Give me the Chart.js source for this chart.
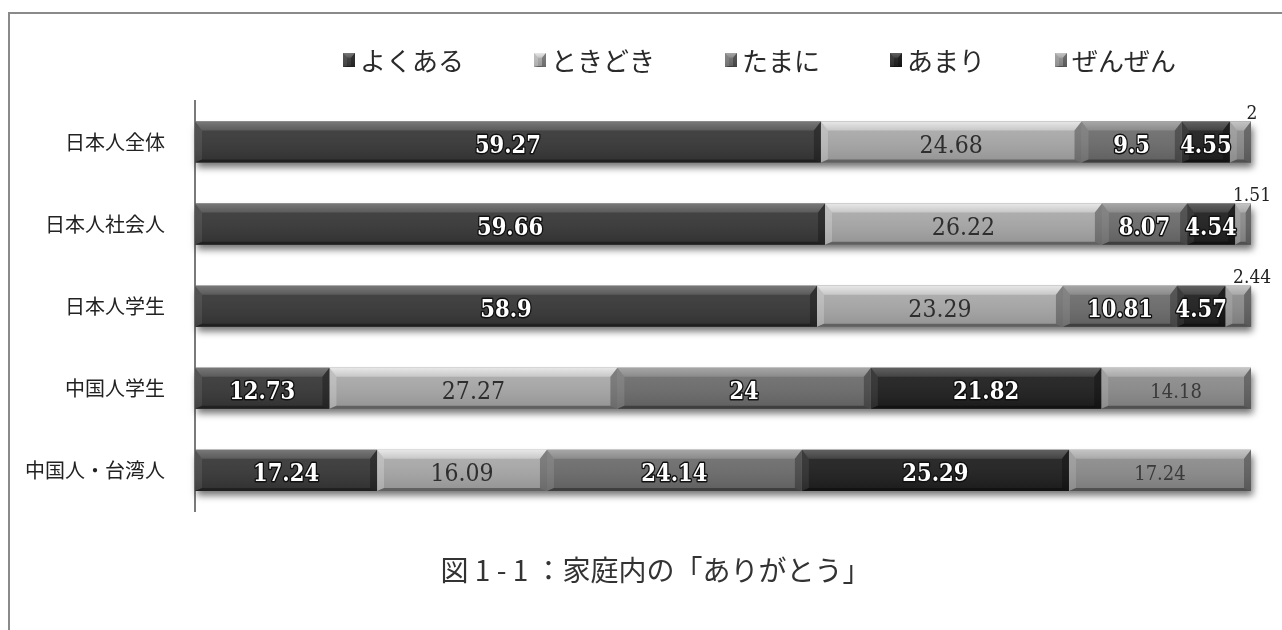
<!DOCTYPE html>
<html lang="ja">
<head>
<meta charset="utf-8">
<title>家庭内の「ありがとう」</title>
<script src="https://cdn.jsdelivr.net/npm/chart.js@4.4.1/dist/chart.umd.min.js"></script>
<style>
  html, body { margin: 0; padding: 0; background: #fff; overflow: hidden; }
  #wrap { position: relative; width: 1282px; height: 630px; overflow: hidden; }
  #frame { position: absolute; left: 8px; top: 12px; width: 1300px; height: 640px;
           border-left: 2px solid #8a8a8a; border-top: 2px solid #8a8a8a; pointer-events: none; }
  canvas { position: absolute; left: 0; top: 0; }
</style>
</head>
<body>
<div id="wrap">
  <div id="frame"></div>
  <canvas id="chart" width="1282" height="630"></canvas>
</div>
<script>
// 回答者グループ
const categories = ['日本人全体', '日本人社会人', '日本人学生', '中国人学生', '中国人・台湾人'];

// 回答の割合 (%)
const seriesNames = ['よくある', 'ときどき', 'たまに', 'あまり', 'ぜんぜん'];
const yokuAru   = [59.27, 59.66, 58.9, 12.73, 17.24];
const tokidoki  = [24.68, 26.22, 23.29, 27.27, 16.09];
const tamaNi    = [9.5, 8.07, 10.81, 24, 24.14];
const amari     = [4.55, 4.54, 4.57, 21.82, 25.29];
const zenzen    = [2, 1.51, 2.44, 14.18, 17.24];

const figureTitle = '図 1 - 1 ：家庭内の「ありがとう」';

// 見た目の設定
const SERIES_FILL  = ['#383838', '#ababab', '#6e6e6e', '#1f1f1f', '#8e8e8e'];
const SERIES_SHINE = [0.28, 0.7, 0.35, 0.25, 0.45];
const SERIF = '"DejaVu Serif", "Liberation Serif", serif';
const LABEL_STYLE = [
  { weight: 'bold',   size: 24, squeeze: 0.88, fill: '#ffffff', stroke: '#111111' },
  { weight: 'normal', size: 24, squeeze: 0.92, fill: '#2e2e2e' },
  { weight: 'bold',   size: 24, squeeze: 0.88, fill: '#ffffff', stroke: '#111111' },
  { weight: 'bold',   size: 24, squeeze: 0.88, fill: '#ffffff', stroke: '#111111' },
  { weight: 'normal', size: 20, squeeze: 0.9,  fill: '#3a3a3a' }
];
const SMALL_LABEL = { weight: 'normal', size: 18, squeeze: 0.95, fill: '#222222' };
const SMALL_LIMIT = 3;

const CJK = '"Noto Sans CJK JP", "Noto Sans", sans-serif';
Chart.defaults.font.family = CJK;

function poly(ctx, pts, style) {
  ctx.beginPath();
  ctx.moveTo(pts[0][0], pts[0][1]);
  for (let i = 1; i < pts.length; i++) ctx.lineTo(pts[i][0], pts[i][1]);
  ctx.closePath();
  ctx.fillStyle = style;
  ctx.fill();
}

// 立体的な面取り
function bevel(ctx, l, t, r, b, shine, dTop, dSide, dBot) {
  const w = r - l, h = b - t;
  const dt = Math.min(dTop, h / 3);
  const ds = Math.min(dSide, w / 3);
  const db = Math.min(dBot, h / 4);
  const body = ctx.createLinearGradient(0, t, 0, b);
  body.addColorStop(0, 'rgba(255,255,255,0.06)');
  body.addColorStop(1, 'rgba(0,0,0,0.14)');
  ctx.fillStyle = body;
  ctx.fillRect(l, t, w, h);
  const g = ctx.createLinearGradient(0, t, 0, t + dt);
  g.addColorStop(0, 'rgba(255,255,255,' + shine + ')');
  g.addColorStop(1, 'rgba(255,255,255,' + (shine * 0.45) + ')');
  poly(ctx, [[l, t], [r, t], [r - ds, t + dt], [l + ds, t + dt]], g);
  poly(ctx, [[l, t], [l + ds, t + dt], [l + ds, b - db], [l, b]], 'rgba(255,255,255,' + (shine * 0.3) + ')');
  poly(ctx, [[r, t], [r - ds, t + dt], [r - ds, b - db], [r, b]], 'rgba(0,0,0,0.28)');
  poly(ctx, [[l, b], [l + ds, b - db], [r - ds, b - db], [r, b]], 'rgba(0,0,0,0.35)');
}

function barBox(el) {
  const p = el.getProps(['x', 'y', 'base', 'height'], true);
  return {
    l: Math.min(p.x, p.base), r: Math.max(p.x, p.base),
    t: p.y - p.height / 2, b: p.y + p.height / 2, cy: p.y
  };
}

// 数字ラベル (横幅をやや詰めたセリフ体)
function drawValue(ctx, txt, x, baseline, st) {
  ctx.save();
  ctx.translate(x, baseline);
  ctx.scale(st.squeeze, 1);
  ctx.font = st.weight + ' ' + st.size + 'px ' + SERIF;
  ctx.textAlign = 'center';
  ctx.textBaseline = 'alphabetic';
  ctx.lineJoin = 'round';
  if (st.stroke) {
    ctx.strokeStyle = st.stroke;
    ctx.lineWidth = 3;
    ctx.strokeText(txt, 0, 0);
  }
  ctx.fillStyle = st.fill;
  ctx.fillText(txt, 0, 0);
  ctx.restore();
}

// 各行の帯の下に落ち影
const barShadow = {
  id: 'barShadow',
  beforeDatasetsDraw(chart) {
    const ctx = chart.ctx;
    const metas = chart.getSortedVisibleDatasetMetas();
    categories.forEach((c, i) => {
      let l = Infinity, r = -Infinity, t = 0, b = 0;
      metas.forEach(m => {
        const bx = barBox(m.data[i]);
        l = Math.min(l, bx.l); r = Math.max(r, bx.r); t = bx.t; b = bx.b;
      });
      ctx.save();
      ctx.shadowColor = 'rgba(0,0,0,0.55)';
      ctx.shadowBlur = 7;
      ctx.shadowOffsetX = 2;
      ctx.shadowOffsetY = 5;
      ctx.fillStyle = '#666';
      ctx.fillRect(l, t, r - l, b - t);
      ctx.restore();
    });
  }
};

// 面取りと数値ラベル
const barDecor = {
  id: 'barDecor',
  afterDatasetsDraw(chart) {
    const ctx = chart.ctx;
    const metas = chart.getSortedVisibleDatasetMetas();
    ctx.save();
    metas.forEach(m => {
      m.data.forEach(el => {
        const bx = barBox(el);
        bevel(ctx, bx.l, bx.t, bx.r, bx.b, SERIES_SHINE[m.index], 9, 7, 3);
      });
    });
    metas.forEach(m => {
      const values = chart.data.datasets[m.index].data;
      m.data.forEach((el, i) => {
        const v = values[i];
        const bx = barBox(el);
        const txt = String(v);
        if (v < SMALL_LIMIT) {
          drawValue(ctx, txt, bx.r + 1, bx.t - 3, SMALL_LABEL);
          return;
        }
        const st = LABEL_STYLE[m.index];
        drawValue(ctx, txt, (bx.l + bx.r) / 2, bx.cy + 2 + st.size * 0.365, st);
      });
    });
    ctx.restore();
  }
};

// 凡例 (上部の一列)
const seriesKey = {
  id: 'seriesKey',
  afterDraw(chart) {
    const ctx = chart.ctx;
    const o = chart.options.plugins.seriesKey;
    let x = o.x;
    ctx.save();
    ctx.font = o.fontSize + 'px ' + CJK;
    ctx.textBaseline = 'middle';
    ctx.textAlign = 'left';
    chart.data.datasets.forEach((ds, i) => {
      const l = x, t = o.y - o.boxH / 2;
      ctx.fillStyle = ds.backgroundColor;
      ctx.fillRect(l, t, o.boxW, o.boxH);
      bevel(ctx, l, t, l + o.boxW, t + o.boxH, SERIES_SHINE[i], 5, 4, 1);
      ctx.fillStyle = o.color;
      ctx.fillText(ds.label, l + o.boxW + o.gap, o.y + 1);
      x += o.boxW + o.gap + ctx.measureText(ds.label).width + o.spacing;
    });
    ctx.restore();
  }
};

// 図題を少し右寄せにする
const titleOffset = {
  id: 'titleOffset',
  afterLayout(chart) {
    const dx = chart.options.plugins.titleOffset.dx;
    if (chart.titleBlock) chart.titleBlock.left += dx;
  }
};

const seriesValues = [yokuAru, tokidoki, tamaNi, amari, zenzen];

new Chart(document.getElementById('chart'), {
  type: 'bar',
  data: {
    labels: categories,
    datasets: seriesNames.map((name, i) => ({
      label: name,
      data: seriesValues[i],
      backgroundColor: SERIES_FILL[i],
      borderWidth: 0,
      categoryPercentage: 1,
      barPercentage: 0.5
    }))
  },
  options: {
    responsive: false,
    animation: false,
    indexAxis: 'y',
    layout: { padding: { top: 101, left: 0, right: 31, bottom: 0 } },
    scales: {
      x: { stacked: true, min: 0, max: 100, display: false },
      y: {
        stacked: true,
        grid: { display: false },
        border: { display: true, color: '#7a7a7a', width: 2 },
        ticks: { padding: 22, color: '#222', font: { size: 20 } },
        afterFit(scale) { scale.width = 195; }
      }
    },
    plugins: {
      legend: { display: false },
      tooltip: { enabled: false },
      title: {
        display: true,
        position: 'bottom',
        text: figureTitle,
        color: '#333',
        font: { size: 28, weight: 'normal' },
        padding: { top: 42, bottom: 43 }
      },
      titleOffset: { dx: 60 },
      seriesKey: { x: 343, y: 60, boxW: 12, boxH: 14, gap: 5, spacing: 70, fontSize: 26, color: '#2a2a2a' }
    }
  },
  plugins: [barShadow, barDecor, seriesKey, titleOffset]
});
</script>
</body>
</html>
